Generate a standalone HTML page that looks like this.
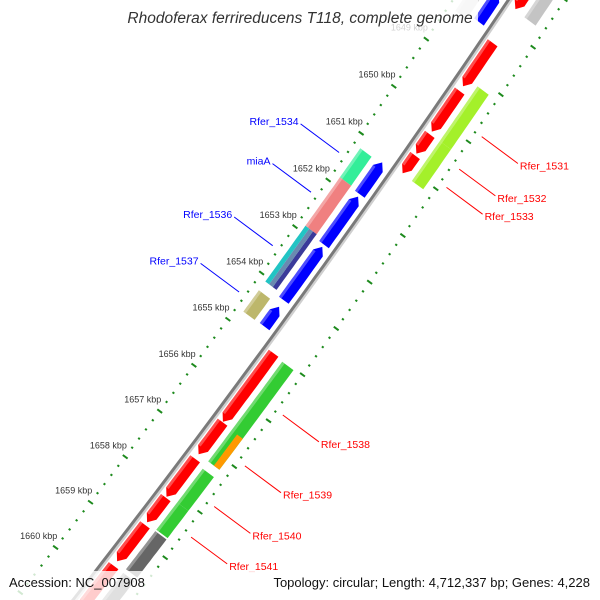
<!DOCTYPE html>
<html><head><meta charset="utf-8"><style>
html,body{margin:0;padding:0;background:#fff;width:600px;height:600px;overflow:hidden;}
svg{display:block;font-family:"Liberation Sans",sans-serif;}
</style></head><body>
<svg id="map" width="600" height="600" viewBox="0 0 600 600" xmlns="http://www.w3.org/2000/svg">
<g id="gTicks"></g>
<g id="gBack"></g>
<g id="gFeat"></g>
<g id="gLab"></g>
<g id="gTickLab"></g>
<rect x="118" y="0" width="360" height="34" fill="#fff" fill-opacity="0.78"/>
<text x="300" y="23" text-anchor="middle" font-size="15.5" font-style="italic" fill="#333">Rhodoferax ferrireducens T118, complete genome</text>
<rect x="0" y="571" width="600" height="29" fill="#fff" fill-opacity="0.8"/>
<text x="9" y="587" font-size="13" fill="#111">Accession: NC_007908</text>
<text x="590" y="587" text-anchor="end" font-size="13" fill="#111">Topology: circular; Length: 4,712,337 bp; Genes: 4,228</text>
</svg>
<script>
// ---- data ----
const featStart = [1647.0,1648.36,1649.38,1650.30,1650.75,1655.0,1656.5,1657.3,1658.15,1658.75,1659.65,1660.65,
  1646.8,1649.13,1650.29,1655.03,1657.36,1658.1,1658.73,1659.65,
  1647.6,1651.19,1651.92,1653.0,1654.29,
  1647.5,1651.22,1651.84,1652.88,1654.27];
const featEnd = [1647.65,1649.28,1650.24,1650.71,1651.13,1656.49,1657.2,1658.13,1658.69,1659.55,1660.6,1661.6,
  1647.67,1650.29,1651.14,1657.2,1658.1,1658.70,1659.57,1660.6,
  1648.21,1651.87,1652.95,1654.15,1654.72,
  1648.3,1651.84,1652.88,1654.08,1654.73];
const featRow = ['r1','r1','r1','r1','r1','r1','r1','r1','r1','r1','r1','r1',
  'r2','r2','r2','r2','r2','r2','r2','r2',
  'l1','l1','l1','l1','l1',
  'l2','l2','l2','l2','l2'];
const featColor = ['#ff0000','#ff0000','#ff0000','#ff0000','#ff0000','#ff0000','#ff0000','#ff0000','#ff0000','#ff0000','#ff0000','#ff0000',
  '#c4c4c4','#a4f02a','#a4f02a','#33cc33','#33cc33','#33cc33','#666666','#666666',
  '#0000ff','#0000ff','#0000ff','#0000ff','#0000ff',
  '#d8d8d8','#33ee99','#f08080','#22bbbb','#bdb76b'];
const overlayStart = [1656.52];
const overlayEnd = [1657.2];
const labelText = ['Rfer_1531','Rfer_1532','Rfer_1533','Rfer_1538','Rfer_1539','Rfer_1540','Rfer_1541','Rfer_1534','miaA','Rfer_1536','Rfer_1537'];
const labelKb = [1649.79,1650.48,1650.87,1655.77,1656.88,1657.77,1658.44,1651.5,1652.35,1653.5,1654.5];
const labelSide = ['out','out','out','out','out','out','out','in','in','in','in'];
const tickKb = [1649,1650,1651,1652,1653,1654,1655,1656,1657,1658,1659,1660];
const tickText = ['1649 kbp','1650 kbp','1651 kbp','1652 kbp','1653 kbp','1654 kbp','1655 kbp','1656 kbp','1657 kbp','1658 kbp','1659 kbp','1660 kbp'];

// ---- geometry ----
const UX=-0.5965, UY=0.8026, NX=0.8026, NY=0.5965, S0=58.9, KPX=57.2;
function P(kb, off){
  const s=S0+(kb-1652)*KPX;
  const b=-1.19+0.02857*s-4.82e-5*s*s;
  const o=off+b;
  return [400+UX*s+NX*o, 160+UY*s+NY*o];
}
const ROWOFF={r1:11,r2:30,l1:-12,l2:-31};
const ROWW={r1:12,r2:14,l1:12,l2:14};
const ROWDIR={r1:1,r2:0,l1:-1,l2:0};
const NS='http://www.w3.org/2000/svg';
function mk(tag, parent, attrs){const e=document.createElementNS(NS,tag);for(const k in attrs)e.setAttribute(k,attrs[k]);parent.appendChild(e);return e;}
function pts(a){return a.map(p=>p[0].toFixed(1)+','+p[1].toFixed(1)).join(' ');}
function band(k1,k2,o1,o2){
  const a=[],b=[];const n=Math.max(2,Math.ceil((k2-k1)/0.1));
  for(let i=0;i<=n;i++){const k=k1+(k2-k1)*i/n;a.push(P(k,o1));b.push(P(k,o2));}
  return a.concat(b.reverse());
}
function arrow(k1,k2,off,w,dir){
  const h=0.13, lo=off-w/2, hi=off+w/2;
  if(dir>0){
    const ke=Math.max(k1,k2-h);
    const a=band(k1,ke,lo,hi);
    const n=a.length/2;
    return a.slice(0,n).concat([P(k2,off)]).concat(a.slice(n));
  } else {
    const ks=Math.min(k2,k1+h);
    const a=band(ks,k2,lo,hi);
    return a.concat([P(k1,off)]);
  }
}

// ticks
const gT=document.getElementById('gTicks');
[-46,47].forEach(function(ring){
  for(let i=0;i<=85;i++){
    const kb=1645+i*0.2;
    const major=(i%5===0);
    const L=major?3:1.1;
    const a=P(kb,ring-L), b=P(kb,ring+L);
    const t=mk('line',gT,{x1:a[0].toFixed(1),y1:a[1].toFixed(1),x2:b[0].toFixed(1),y2:b[1].toFixed(1),stroke:'#1d8a1d','stroke-width':2});
    
    
  }
});

// backbone
const gB=document.getElementById('gBack');
const bb=[],bs=[];
for(let k=1644;k<=1663;k+=0.25){bb.push(P(k,0));bs.push(P(k,2.6));}
let e=mk('polyline',gB,{points:pts(bs),fill:'none',stroke:'#cfcfcf','stroke-width':2.2});


e=mk('polyline',gB,{points:pts(bb),fill:'none',stroke:'#7a7a7a','stroke-width':3});



// features
const gF=document.getElementById('gFeat');
for(let i=0;i<featStart.length;i++){
  const r=featRow[i], off=ROWOFF[r], w=ROWW[r], dir=ROWDIR[r];
  let poly;
  if(dir!==0) poly=arrow(featStart[i],featEnd[i],off,w,dir);
  else poly=band(featStart[i],featEnd[i],off-w/2,off+w/2);
  if(featColor[i]==='#22bbbb'){
    const p1=mk('polygon',gF,{points:pts(band(featStart[i],featEnd[i],off+w/6,off+w/2)),fill:'#3a3a9a'});
    
    
    const p2=mk('polygon',gF,{points:pts(band(featStart[i],featEnd[i],off-w/6,off+w/6)),fill:'#6a8ab0'});
    
    
    const p3=mk('polygon',gF,{points:pts(band(featStart[i],featEnd[i],off-w/2,off-w/6)),fill:'#22c4c4'});
    
    
    continue;
  }
  const g=mk('polygon',gF,{points:pts(poly),fill:featColor[i]});
  
  
  const k2=(dir>0)?featEnd[i]-0.13:featEnd[i];
  const k1=(dir<0)?featStart[i]+0.13:featStart[i];
  const hl=mk('polygon',gF,{points:pts(band(k1,k2,off-w/2,off-w/2+3)),fill:'#ffffff','fill-opacity':0.3});
  
  
}
for(let i=0;i<overlayStart.length;i++){
  const o=mk('polygon',gF,{points:pts(band(overlayStart[i],overlayEnd[i],ROWOFF.r2,ROWOFF.r2+7)),fill:'#ff9900'});
  
  
}

// gene labels
const gL=document.getElementById('gLab');
for(let i=0;i<labelText.length;i++){
  const out=labelSide[i]==='out';
  const a=P(labelKb[i],out?55:-53), b=P(labelKb[i],out?100:-101);
  const col=out?'#ff0000':'#0000ff';
  const ln=mk('line',gL,{x1:a[0].toFixed(1),y1:a[1].toFixed(1),x2:b[0].toFixed(1),y2:b[1].toFixed(1),stroke:col,'stroke-width':1});
  
  
  const t=mk('text',gL,{x:(out?b[0]+2:b[0]-2).toFixed(1),y:(out?b[1]+6:b[1]+1).toFixed(1),'font-size':10.5,fill:col,'text-anchor':out?'start':'end'});
  t.textContent=labelText[i];
  
  
}

// tick labels
const gTL=document.getElementById('gTickLab');
for(let i=0;i<tickKb.length;i++){
  const p=P(tickKb[i],-67);
  const t=mk('text',gTL,{x:p[0].toFixed(1),y:(p[1]+4).toFixed(1),'font-size':9,fill:'#333','text-anchor':'middle'});
  t.textContent=tickText[i];
  
  
}
</script>
</body></html>
